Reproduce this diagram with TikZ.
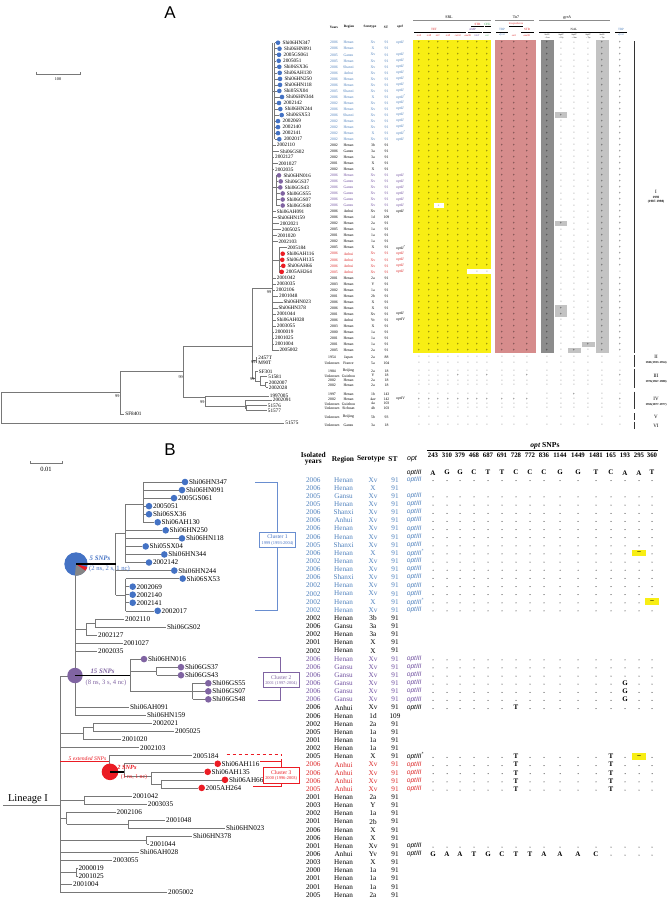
\documentclass[tikz,border=0pt]{standalone}
\usepackage{fontspec}
\setmainfont{Liberation Serif}
\newfontfamily\sansf{Liberation Sans}
\definecolor{bl}{RGB}{79,129,189}
\definecolor{blc}{RGB}{68,114,196}
\definecolor{pu}{RGB}{112,80,160}
\definecolor{puc}{RGB}{128,100,162}
\definecolor{re}{RGB}{220,40,40}
\definecolor{rec}{RGB}{235,28,36}
\definecolor{kk}{RGB}{0,0,0}
\definecolor{kkc}{RGB}{0,0,0}
\definecolor{yel}{RGB}{248,238,20}
\definecolor{pnk}{RGB}{214,140,140}
\definecolor{dg}{RGB}{140,140,140}
\definecolor{lg}{RGB}{195,195,195}
\definecolor{treeg}{RGB}{120,120,120}
\definecolor{grn}{RGB}{60,160,80}
\def\YA#1{(42.7+(#1-1)*6.03)}
\def\YB#1{(479.7+(#1-1)*8.14)}
\def\YL#1{(482+(#1-1)*8.05)}
\begin{document}
\begin{tikzpicture}[x=1pt,y=-1pt,
  br/.style={draw=treeg,line width=0.55pt},
  ta/.style={font=\fontsize{3.8}{4}\selectfont,inner sep=0pt},
  la/.style={font=\fontsize{5.2}{5.2}\selectfont,inner sep=0pt,anchor=west},
  pm/.style={font=\fontsize{4}{4}\selectfont,inner sep=0pt},
  bs/.style={font=\fontsize{4.2}{4.2}\selectfont,inner sep=0pt},
  hA/.style={font=\fontsize{3.2}{3.4}\selectfont,inner sep=0pt},
  tb/.style={font=\fontsize{7.2}{7.2}\selectfont,inner sep=0pt},
  lb/.style={font=\fontsize{7.2}{7.2}\selectfont,inner sep=0pt,anchor=west},
  ob/.style={font=\sansf\itshape\fontsize{6.6}{7}\selectfont,inner sep=0pt,anchor=west},
  snp/.style={font=\bfseries\fontsize{7}{7}\selectfont,inner sep=0.3pt,fill=white},
  hb/.style={font=\bfseries\fontsize{7.4}{7.6}\selectfont,inner sep=0pt}]
\useasboundingbox (0,0) rectangle (667,900);
\fill[white] (0,0) rectangle (667,900);

%================ PANEL A =================
\node[font=\sansf\fontsize{17}{17}\selectfont,inner sep=0pt] (labA) at (170,13) {A};
\draw[treeg,line width=0.5pt] (36,71.5) -- (36,74) -- (80,74) -- (80,71.5);
\node[bs] (scA) at (58,79.5) {100};

% coloured blocks
\fill[yel] (413,39.5) rectangle (491,353.3);
\fill[pnk] (495,39.5) rectangle (536,353.3);
\fill[dg] (540.5,39.5) rectangle (553.5,353.3);
\fill[lg] (595.5,39.5) rectangle (608.5,353.3);

% header A
\node[hA,font=\fontsize{4}{4}\selectfont] (hSRL) at (449,17.3) {SRL};
\node[hA,font=\fontsize{4}{4}\selectfont] (hTn) at (516,17.3) {Tn7};
\node[hA,font=\itshape\fontsize{4}{4}\selectfont] (hgy) at (567,17.3) {gyrA};
\draw[dg,line width=1.1pt] (413,20.6) -- (491,20.6);
\draw[dg,line width=1.1pt] (495,20.6) -- (534,20.6);
\draw[dg,line width=1.1pt] (539,20.6) -- (610,20.6);
\node[hA,text=re] (hSTR) at (477.5,24) {STR};
\node[hA,text=grn] (hCHL) at (487.5,24) {CHL};
\node[hA,text=re,font=\fontsize{2.6}{3}\selectfont] (hSt) at (516,24) {Streptothricin};
\draw[line width=0.8pt] (471,26.8) -- (484,26.8);
\draw[line width=0.8pt] (484.5,26.8) -- (491,26.8);
\draw[line width=0.8pt] (509,26.8) -- (523,26.8);
\node[hA,text=re] (hTET) at (434,29.4) {TET};
\node[hA,text=pu] (hAMP) at (472.5,29.4) {AMP};
\node[hA,text=bl] (hTBP1) at (502,29.4) {TBP};
\node[hA,text=re] (hSTR2) at (527,29.4) {STR};
\node[hA] (hNAL) at (574,29.4) {NAL};
\node[hA,text=bl] (hTBP2) at (621,29.4) {TBP};
\draw[line width=0.8pt] (414,32.2) -- (466,32.2);
\draw[line width=0.8pt] (468,32.2) -- (482,32.2);
\draw[line width=0.8pt] (483,32.2) -- (491,32.2);
\draw[line width=0.8pt] (496,32.2) -- (508,32.2);
\draw[line width=0.8pt] (521,32.2) -- (534,32.2);
\draw[line width=0.8pt] (539,32.2) -- (610,32.2);
\draw[line width=0.8pt] (615,32.2) -- (627,32.2);
\foreach \x/\g/\c [count=\k] in {419/tetA/re,429/tetB/re,438/tetC/re,448/tetR/re,458/catA1/re,468/aadA1/re,477/blaT/pu,487/cat/grn,502/dfrA1/bl,514/sat1/re,527/aadA1/re,621/dfrA1/bl}
  {\node[hA,text=\c,font=\itshape\fontsize{2.6}{3}\selectfont] (gn\k) at (\x,35.3) {\g};}
\foreach \x/\a/\b [count=\k] in {547/Ser83/Leu,561/Asp87/Gly,574/Asp87/Asn,588/Asp87/Tyr,602/Ser83/Tyr}
  {\node[hA,font=\fontsize{2.1}{2.2}\selectfont] (mu\k) at (\x,34.6) {\a};
   \node[hA,font=\fontsize{2.1}{2.2}\selectfont] (mv\k) at (\x,37.7) {→\b};}
\node[hA,font=\bfseries\fontsize{3.4}{3.4}\selectfont] (hY) at (334,27) {Years};
\node[hA,font=\bfseries\fontsize{3.4}{3.4}\selectfont] (hR) at (349,27) {Region};
\node[hA,font=\bfseries\fontsize{3.4}{3.4}\selectfont] (hS) at (370,27) {Serotype};
\node[hA,font=\bfseries\fontsize{3.4}{3.4}\selectfont] (hST) at (386,27) {ST};
\node[hA,font=\itshape\bfseries\fontsize{3.4}{3.4}\selectfont] (hO) at (400,27) {optI};

% + / - grid for lineage I
\foreach \i in {1,...,52}{
  \pgfmathsetmacro\yy{42.7+(\i-1)*6.03}
  \foreach \x in {419,429,438,448,458,468,477,487,502,514,527,547,602,620}{\node[pm] at (\x,\yy) {+};}
  \foreach \x in {561,574,588}{\node[pm] at (\x,\yy) {-};}
}
% special cells
\fill[lg] (555,{\YA{13}-2.7}) rectangle (567,{\YA{13}+2.7}); \node[pm] at (561,{\YA{13}}) {+};
\fill[lg] (555,{\YA{31}-2.7}) rectangle (567,{\YA{31}+2.7}); \node[pm] at (561,{\YA{31}}) {+};
\fill[lg] (555,{\YA{45}-2.7}) rectangle (567,{\YA{46}+2.7}); \node[pm] at (561,{\YA{45}}) {+}; \node[pm] at (561,{\YA{46}}) {+};
\fill[lg] (582,{\YA{51}-2.7}) rectangle (595,{\YA{51}+2.7}); \node[pm] at (588,{\YA{51}}) {+};
\fill[lg] (568,{\YA{52}-2.7}) rectangle (581,{\YA{52}+2.7}); \node[pm] at (574,{\YA{52}}) {+};
\fill[white] (434,{\YA{28}-2.6}) rectangle (443.5,{\YA{28}+2.6}); \node[pm] at (438.5,{\YA{28}}) {-};
\fill[white] (467,{\YA{39}-2.6}) rectangle (491,{\YA{39}+2.6}); \node[pm] at (477,{\YA{39}}) {-}; \node[pm] at (487,{\YA{39}}) {-};
\fill[white] (617,{\YA{39}-2.6}) rectangle (623,{\YA{39}+2.6}); \node[pm] at (620,{\YA{39}}) {-};

% lineage I tree and table (A)
\draw[br] (272,{\YA{1}}) -- (272,{\YA{52}});
\draw[br] (274.5,{\YA{1}}) -- (274.5,{\YA{17}});
\draw[br] (276.5,{\YA{23}}) -- (276.5,{\YA{28}});
\draw[br] (279,{\YA{35}}) -- (279,{\YA{39}});
\draw[br] (272,{\YA{9}}) -- (274.5,{\YA{9}});
\draw[br] (272,{\YA{25}}) -- (276.5,{\YA{25}});
\draw[br] (272,{\YA{37}}) -- (279,{\YA{37}});
\foreach \i/\nm/\yr/\rg/\sr/\st/\op/\cl/\cx/\lx in {
1/Shi06HN347/2006/Henan/Xv/91/optII/bl/278/282.5,
2/Shi06HN091/2006/Henan/X/91/{}/bl/279.5/284,
3/2005GS061/2005/Gansu/Xv/91/optII/bl/279/283.5,
4/2005051/2005/Henan/Xv/91/optII/bl/278.7/283,
5/Shi06SX36/2006/Shanxi/Xv/91/optII/bl/279.3/283.8,
6/Shi06AH130/2006/Anhui/Xv/91/optII/bl/279.7/284,
7/Shi06HN250/2006/Henan/Xv/91/optII/bl/280/284.3,
8/Shi06HN118/2006/Henan/Xv/91/optII/bl/280/284.3,
9/Shi05SX04/2005/Shanxi/Xv/91/optII/bl/279.3/283.8,
10/Shi06HN344/2006/Henan/X/91/optII\textsuperscript{*}/bl/282/286,
11/2002142/2002/Henan/Xv/91/optII/bl/279/283.5,
12/Shi06HN244/2006/Henan/Xv/91/optII/bl/280.3/284.7,
13/Shi06SX53/2006/Shanxi/Xv/91/optII/bl/281.7/286,
14/2002069/2002/Henan/Xv/91/optII/bl/278/282.5,
15/2002140/2002/Henan/Xv/91/optII/bl/278/282.5,
16/2002141/2002/Henan/X/91/optII\textsuperscript{*}/bl/278/282.5,
17/2002017/2002/Henan/Xv/91/optII/bl/279.3/283.8,
18/2002110/2002/Henan/3b/91/{}/kk/0/276.7,
19/Shi06GS02/2006/Gansu/3a/91/{}/kk/0/280,
20/2002127/2002/Henan/3a/91/{}/kk/0/275,
21/2001027/2001/Henan/X/91/{}/kk/0/278.3,
22/2002035/2002/Henan/X/91/{}/kk/0/275,
23/Shi06HN016/2006/Henan/Xv/91/optII/pu/279/283.3,
24/Shi06GS37/2006/Gansu/Xv/91/optII/pu/280.7/285,
25/Shi06GS43/2006/Gansu/Xv/91/optII/pu/280.3/284.7,
26/Shi06GS55/2006/Gansu/Xv/91/optII/pu/282.7/286.7,
27/Shi06GS07/2006/Gansu/Xv/91/optII/pu/282.7/286.7,
28/Shi06GS48/2006/Gansu/Xv/91/optII/pu/282.7/286.7,
29/Shi06AH091/2006/Anhui/Xv/91/optII/kk/0/276.7,
30/Shi06HN159/2006/Henan/1d/109/{}/kk/0/277.3,
31/2002021/2002/Henan/2a/91/{}/kk/0/280,
32/2005025/2005/Henan/1a/91/{}/kk/0/281.7,
33/2001020/2001/Henan/1a/91/{}/kk/0/277.3,
34/2002103/2002/Henan/1a/91/{}/kk/0/278.3,
35/2005184/2005/Henan/X/91/optII\textsuperscript{*}/kk/0/287.3,
36/Shi06AH116/2006/Anhui/Xv/91/optII/re/282.7/286.7,
37/Shi06AH135/2006/Anhui/Xv/91/optII/re/282.3/286.5,
38/Shi06AH66/2006/Anhui/Xv/91/optII/re/283.3/287.3,
39/2005AH264/2005/Anhui/Xv/91/optII/re/281.7/286,
40/2001042/2001/Henan/2a/91/{}/kk/0/276.7,
41/2003035/2003/Henan/Y/91/{}/kk/0/276.7,
42/2002106/2002/Henan/1a/91/{}/kk/0/276,
43/2001048/2001/Henan/2b/91/{}/kk/0/279,
44/Shi06HN023/2006/Henan/X/91/{}/kk/0/283.3,
45/Shi06HN378/2006/Henan/X/91/{}/kk/0/278.3,
46/2001044/2001/Henan/Xv/91/optII/kk/0/276.7,
47/Shi06AH028/2006/Anhui/Yv/91/optIV/kk/0/276.7,
48/2003055/2003/Henan/X/91/{}/kk/0/276.7,
49/2000019/2000/Henan/1a/91/{}/kk/0/275,
50/2001025/2001/Henan/1a/91/{}/kk/0/275,
51/2001004/2001/Henan/1a/91/{}/kk/0/275,
52/2005002/2005/Henan/2a/91/{}/kk/0/279.3}{
  \pgfmathsetmacro\yy{42.7+(\i-1)*6.03}
  \pgfmathsetmacro\sx{ifthenelse(\i<18,274.5,ifthenelse(and(\i>22,\i<29),276.5,ifthenelse(and(\i>34,\i<40),279,272)))}
  \ifdim\cx pt>1pt
    \draw[br] (\sx,\yy) -- ({\cx-2.3},\yy);
    \fill[\cl c] (\cx,\yy) circle (2.3);
  \else
    \draw[br] (\sx,\yy) -- ({\lx-0.6},\yy);
  \fi
  \node[la] (al\i) at (\lx,\yy) {\nm};
  \node[ta,text=\cl] (ay\i) at (334,\yy) {\yr};
  \node[ta,text=\cl] (ar\i) at (348.5,\yy) {\rg};
  \node[ta,text=\cl] (as\i) at (373,\yy) {\sr};
  \node[ta,text=\cl] (at\i) at (386.5,\yy) {\st};
  \node[ta,text=\cl,anchor=west,font=\itshape\fontsize{3.8}{4}\selectfont] (ao\i) at (396,\yy) {\op};
}

% outgroup part of tree A
\draw[br] (252,288.3) -- (272,288.3);
\node[bs,anchor=east] (bA1) at (271.3,292.6) {99};
\draw[br] (252,288.3) -- (252,378);
\draw[br] (252,360) -- (256,360);
\draw[br] (256,357.3) -- (256,362.7);
\node[bs,anchor=east] (bA2) at (255.6,362.6) {99};
\draw[br] (252,378) -- (255,378);
\draw[br] (255,371.5) -- (255,381);
\draw[br] (255,381) -- (260,381);
\draw[br] (260,376.5) -- (260,385);
\draw[br] (260,385) -- (265.7,385);
\draw[br] (265.7,382.3) -- (265.7,387.4);
\node[bs,anchor=east] (bA3) at (254.6,379.5) {99};
\draw[br] (183.3,346.7) -- (252,346.7);
\draw[br] (183.3,346.7) -- (183.3,397.7);
\node[bs,anchor=east] (bA4) at (183,377) {99};
\draw[br] (183.3,397.7) -- (205,397.7);
\draw[br] (205,396) -- (205,406.7);
\node[bs,anchor=east] (bA5) at (204.6,402) {99};
\draw[br] (205,406.7) -- (245,406.7);
\draw[br] (245,400) -- (245,408);
\draw[br] (245,408) -- (246,408);
\draw[br] (246,405.5) -- (246,410.6);
\draw[br] (120,371.7) -- (183.3,371.7);
\draw[br] (120,371.7) -- (120,414);
\node[bs,anchor=east] (bA6) at (119.6,396.4) {99};
\draw[br] (1,392.3) -- (120,392.3);
\draw[br] (1,392.3) -- (1,423.3);
\foreach \x/\y/\e/\nm [count=\k] in {256/357.3/257/2457T,256/362.7/257/M90T,255/371.5/257.5/SF301,260/376.5/267/51581,265.7/382.3/267.5/2002007,265.7/387.4/267.5/2002028,205/396/268.5/1997005,245/400/271.5/2002091,246/405.5/266.5/51576,246/410.6/266.5/51577,120/414/124/SF8401,1/423.3/284/51575}
 {\draw[br] (\x,\y) -- (\e,\y); \node[la] (ol\k) at ({\e+1.2},\y) {\nm};}

% outgroup table rows
\foreach \y/\yr/\rg/\sr/\st/\op [count=\k] in {357.3/1954/Japan/2a/88/{},363/Unknown/France/5a/104/{},371/1984/Beijing/2a/18/{},375.7/Unknown/Guizhou/Y/18/{},380.7/2002/Henan/2a/18/{},385.3/2002/Henan/2a/18/{},394.3/1997/Henan/1b/143/{},399/2002/Henan/4av/142/optIV,403.7/Unknown/Guizhou/4a/103/{},408.3/Unknown/Sichuan/4b/103/{},417/Unknown/Beijing/5b/93/{},425/Unknown/Gansu/3a/18/{}}{
  \node[ta] (oy\k) at (332,\y) {\yr};
  \node[ta] (or\k) at (348.5,\y) {\rg};
  \node[ta] (os\k) at (373,\y) {\sr};
  \node[ta] (ot\k) at (386.5,\y) {\st};
  \node[ta,anchor=west,font=\itshape\fontsize{3.8}{4}\selectfont] (oo\k) at (396,\y) {\op};
}
\foreach \y in {357.3,363,371,380.7,385.3,403.7,408.3,417,425}{
  \foreach \x in {419,429,438,448,458,468,477,487,502,514,527,547,561,574,588,602,620}{\node[pm] at (\x,\y) {-};}
}
\foreach \x in {419,429,438,448,468,477,502,514,547,561,574,588,602}{\node[pm] at (\x,375.7) {-};}
\foreach \x in {458,487,527,620}{\node[pm] at (\x,375.7) {+};}
\foreach \x in {419,429,438,448,458,468,477,487,502,514,527,547,561,588,602,620}{\node[pm] at (\x,394.3) {-};}
\node[pm] at (574,394.3) {+};
\foreach \x in {419,429,438,448,458,468,477,487,502,514,527,620}{\node[pm] at (\x,399) {+};}
\foreach \x in {547,561,574,588,602}{\node[pm] at (\x,399) {-};}

% lineage brackets (A)
\draw[line width=0.7pt,black!80] (634,41) -- (634,353.3);
\draw[line width=0.7pt,black!80] (634,355) -- (634,366.7);
\draw[line width=0.7pt,black!80] (634,368.5) -- (634,388);
\draw[line width=0.7pt,black!80] (634,391.5) -- (634,409);
\draw[line width=0.7pt,black!80] (634,413) -- (634,420);
\draw[line width=0.7pt,black!80] (634,421.8) -- (634,428.5);
\node[bs,font=\fontsize{5}{5}\selectfont] (lI) at (656,192) {I};
\node[hA,font=\bfseries\fontsize{3.3}{3.3}\selectfont] (lIa) at (656,197.3) {1993};
\node[hA,font=\bfseries\fontsize{3.3}{3.3}\selectfont] (lIb) at (656,201.5) {(1987-1998)};
\node[bs,font=\fontsize{5}{5}\selectfont] (lII) at (656,357) {II};
\node[hA,font=\bfseries\fontsize{3}{3}\selectfont] (lIIa) at (656,363) {1941(1933-1954)};
\node[bs,font=\fontsize{5}{5}\selectfont] (lIII) at (656,376) {III};
\node[hA,font=\bfseries\fontsize{3}{3}\selectfont] (lIIIa) at (656,381.8) {1976(1967-1980)};
\node[bs,font=\fontsize{5}{5}\selectfont] (lIV) at (656,399) {IV};
\node[hA,font=\bfseries\fontsize{3}{3}\selectfont] (lIVa) at (656,405) {1956(1877-1977)};
\node[bs,font=\fontsize{5}{5}\selectfont] (lV) at (656,417.3) {V};
\node[bs,font=\fontsize{5}{5}\selectfont] (lVI) at (656,425.8) {VI};

%================ PANEL B =================
\node[font=\sansf\fontsize{17}{17}\selectfont,inner sep=0pt] (labB) at (170,450) {B};
\draw[treeg,line width=0.6pt] (30,461) -- (30,463.5) -- (62,463.5) -- (62,461);
\node[bs,font=\fontsize{6.5}{6.5}\selectfont] (scB) at (46,469.5) {0.01};

% header B
\node[hb] (hIs) at (313.3,455) {Isolated};
\node[hb] (hIy) at (313.3,463) {years};
\node[hb] (hRg) at (343,459.3) {Region};
\node[hb] (hSe) at (371,459.3) {Serotype};
\node[hb] (hSt) at (393,459.3) {ST};
\node[ob,font=\sansf\itshape\fontsize{7}{7}\selectfont,anchor=center] (hOp) at (412,459.3) {opt};
\node[hb,font=\bfseries\fontsize{7.6}{7.6}\selectfont] (hSN) at (545,446) {\textit{opt} SNPs};
\draw[line width=0.9pt] (427,450.6) -- (658,450.6);
\foreach \x/\n [count=\k] in {433/243,447/310,460/379,474/468,488/687,502/691,516/728,530/772,544/836,560/1144,578/1449,596/1481,611/165,625/193,639/295,652/360}
  {\node[hb,font=\bfseries\fontsize{6.8}{6.8}\selectfont] (pn\k) at (\x,455.3) {\n};}
\node[ob] (refo) at (406.7,472.7) {optIII};
\foreach \x/\n [count=\k] in {433/A,447/G,460/G,474/C,488/T,502/T,516/C,530/C,544/C,560/G,578/G,596/T,611/C,625/A,639/A,652/T}
  {\node[snp] (rf\k) at (\x,472.7) {\n};}

% table B
\foreach \i/\yr/\rg/\sr/\st/\op/\cl in {
1/2006/Henan/Xv/91/optIII/bl, 2/2006/Henan/X/91/{}/bl, 3/2005/Gansu/Xv/91/optIII/bl,
4/2005/Henan/Xv/91/optIII/bl, 5/2006/Shanxi/Xv/91/optIII/bl, 6/2006/Anhui/Xv/91/optIII/bl,
7/2006/Henan/Xv/91/optIII/bl, 8/2006/Henan/Xv/91/optIII/bl, 9/2005/Shanxi/Xv/91/optIII/bl,
10/2006/Henan/X/91/optIII\textsuperscript{*}/bl, 11/2002/Henan/Xv/91/optIII/bl, 12/2006/Henan/Xv/91/optIII/bl,
13/2006/Shanxi/Xv/91/optIII/bl, 14/2002/Henan/Xv/91/optIII/bl, 15/2002/Henan/Xv/91/optIII/bl,
16/2002/Henan/X/91/optIII\textsuperscript{*}/bl, 17/2002/Henan/Xv/91/optIII/bl,
18/2002/Henan/3b/91/{}/kk, 19/2006/Gansu/3a/91/{}/kk, 20/2002/Henan/3a/91/{}/kk,
21/2001/Henan/X/91/{}/kk, 22/2002/Henan/X/91/{}/kk,
23/2006/Henan/Xv/91/optIII/pu, 24/2006/Gansu/Xv/91/optIII/pu, 25/2006/Gansu/Xv/91/optIII/pu,
26/2006/Gansu/Xv/91/optIII/pu, 27/2006/Gansu/Xv/91/optIII/pu, 28/2006/Gansu/Xv/91/optIII/pu,
29/2006/Anhui/Xv/91/optIII/kk, 30/2006/Henan/1d/109/{}/kk, 31/2002/Henan/2a/91/{}/kk,
32/2005/Henan/1a/91/{}/kk, 33/2001/Henan/1a/91/{}/kk, 34/2002/Henan/1a/91/{}/kk,
35/2005/Henan/X/91/optIII\textsuperscript{*}/kk,
36/2006/Anhui/Xv/91/optIII/re, 37/2006/Anhui/Xv/91/optIII/re, 38/2006/Anhui/Xv/91/optIII/re,
39/2005/Anhui/Xv/91/optIII/re,
40/2001/Henan/2a/91/{}/kk, 41/2003/Henan/Y/91/{}/kk, 42/2002/Henan/1a/91/{}/kk,
43/2001/Henan/2b/91/{}/kk, 44/2006/Henan/X/91/{}/kk, 45/2006/Henan/X/91/{}/kk,
46/2001/Henan/Xv/91/optIII/kk, 47/2006/Anhui/Yv/91/optIII/kk, 48/2003/Henan/X/91/{}/kk,
49/2000/Henan/1a/91/{}/kk, 50/2001/Henan/1a/91/{}/kk, 51/2001/Henan/1a/91/{}/kk,
52/2005/Henan/2a/91/{}/kk}{
  \pgfmathsetmacro\yy{479.7+(\i-1)*8.14}
  \node[tb,text=\cl] (by\i) at (313.3,\yy) {\yr};
  \node[tb,text=\cl] (bg\i) at (343.5,\yy) {\rg};
  \node[tb,text=\cl] (bs\i) at (373,\yy) {\sr};
  \node[tb,text=\cl] (bt\i) at (395,\yy) {\st};
  \node[ob,text=\cl] (bo\i) at (406.7,\yy) {\op};
}
\foreach \i in {1,3,4,5,6,7,8,9,10,11,12,13,14,15,16,17,23,24,25,26,27,28,29,35,36,37,38,39,46}{
  \pgfmathsetmacro\yy{479.7+(\i-1)*8.14}
  \foreach \x in {433,447,460,474,488,502,516,530,544,560,578,596,611,625,639,652}{\fill (\x,{\yy+1}) circle (0.5);}
}
\foreach \i/\x in {10/639,16/652,35/639}{
  \fill[yel] ({\x-7},{\YB{\i}-3.4}) rectangle ({\x+7},{\YB{\i}+3.4});
  \node[snp,fill=none] at (\x,{\YB{\i}}) {--};
}
\foreach \i in {26,27,28}{\node[snp] at (625,{\YB{\i}}) {G};}
\node[snp] at (516,{\YB{29}}) {T};
\foreach \i in {35,36,37,38,39}{\node[snp] at (516,{\YB{\i}}) {T}; \node[snp] at (611,{\YB{\i}}) {T};}
\foreach \x/\n in {433/G,447/A,460/A,474/T,488/G,502/C,516/T,530/T,544/A,560/A,578/A,596/C}
  {\node[snp] at (\x,{\YB{47}}) {\n};}
\foreach \x in {611,625,639,652}{\fill (\x,{\YB{47}+1}) circle (0.5);}

% tree B internal branches
\draw[br] (143,{\YL{1}}) -- (143,{\YL{6}});
\draw[br] (125,504) -- (143,504);
\draw[br] (125,504) -- (125,{\YL{11}});
\draw[br] (115.7,533) -- (125,533);
\draw[br] (115.7,533) -- (115.7,595);
\draw[br] (115.7,595) -- (125.5,595);
\draw[br] (125.5,{\YL{13}}) -- (125.5,{\YL{17}});
\draw[br] (75,564) -- (75,{\YL{30}});
\draw[br] (60,676) -- (75,676);
\draw[br] (60,676) -- (60,{\YL{52}});
\draw[br] (3,805) -- (60,805);
\draw[br] (75,629) -- (86,629);
\draw[br] (86,623) -- (86,{\YL{20}});
\draw[br] (86,623) -- (95,623);
\draw[br] (95,{\YL{18}}) -- (95,{\YL{19}});
\draw[br] (130,{\YL{23}}) -- (130,{\YL{27}});
\draw[br] (130,671) -- (156.7,671);
\draw[br] (156.7,{\YL{24}}) -- (156.7,{\YL{25}});
\draw[br] (130,{\YL{27}}) -- (192.7,{\YL{27}});
\draw[br] (192.7,{\YL{26}}) -- (192.7,{\YL{28}});
\draw[br] (60,733.5) -- (83.3,733.5);
\draw[br] (83.3,727.5) -- (83.3,{\YL{33}});
\draw[br] (83.3,727.5) -- (93.3,727.5);
\draw[br] (93.3,{\YL{31}}) -- (93.3,{\YL{32}});
\draw[rec,line width=0.6pt] (60,761.5) -- (109,761.5);
\draw[br] (109,{\YL{35}}) -- (109,771.8);
\draw[br] (124,{\YL{36}}) -- (124,776);
\draw[br] (124,776) -- (151,776);
\draw[br] (151,{\YL{37}}) -- (151,784);
\draw[br] (151,784) -- (161,784);
\draw[br] (161,{\YL{38}}) -- (161,{\YL{39}});
\draw[br] (60,800) -- (84.3,800);
\draw[br] (84.3,{\YL{40}}) -- (84.3,{\YL{41}});
\draw[br] (60,818) -- (66.7,818);
\draw[br] (66.7,{\YL{42}}) -- (66.7,824.1);
\draw[br] (66.7,824.1) -- (128.3,824.1);
\draw[br] (128.3,{\YL{43}}) -- (128.3,{\YL{44}});
\draw[br] (60,840.2) -- (146.7,840.2);
\draw[br] (146.7,{\YL{45}}) -- (146.7,{\YL{46}});
\draw[br] (60,872.4) -- (76,872.4);
\draw[br] (76,{\YL{49}}) -- (76,{\YL{50}});

% leaves B
\foreach \i/\nm/\cl/\cx/\px/\lx in {
1/Shi06HN347/bl/185/143/0, 2/Shi06HN091/bl/182/143/0, 3/2005GS061/bl/174/143/0,
4/2005051/bl/149/143/0, 5/Shi06SX36/bl/149/143/0, 6/Shi06AH130/bl/157.7/143/0,
7/Shi06HN250/bl/165.7/125/0, 8/Shi06HN118/bl/182/125/0, 9/Shi05SX04/bl/145.7/125/0,
10/Shi06HN344/bl/164.3/125/0, 11/2002142/bl/149/125/0, 12/Shi06HN244/bl/174.3/115.7/0,
13/Shi06SX53/bl/182.7/125.5/0, 14/2002069/bl/132.7/125.5/0, 15/2002140/bl/132.7/125.5/0,
16/2002141/bl/132.7/125.5/0, 17/2002017/bl/157.7/125.5/0,
18/2002110/kk/0/95/125, 19/Shi06GS02/kk/0/95/167, 20/2002127/kk/0/86/98,
21/2001027/kk/0/75/123.5, 22/2002035/kk/0/75/98,
23/Shi06HN016/pu/144/130/0, 24/Shi06GS37/pu/181/156.7/0, 25/Shi06GS43/pu/181/156.7/0,
26/Shi06GS55/pu/208.3/192.7/0, 27/Shi06GS07/pu/208.3/192.7/0, 28/Shi06GS48/pu/208.3/192.7/0,
29/Shi06AH091/kk/0/75/130, 30/Shi06HN159/kk/0/75/147, 31/2002021/kk/0/93.3/152.7,
32/2005025/kk/0/93.3/175, 33/2001020/kk/0/83.3/122, 34/2002103/kk/0/60/140,
35/2005184/kk/0/109/193, 36/Shi06AH116/re/217.7/124/0, 37/Shi06AH135/re/207.7/151/0,
38/Shi06AH66/re/225/161/0, 39/2005AH264/re/201.7/161/0,
40/2001042/kk/0/84.3/132.7, 41/2003035/kk/0/84.3/147.7, 42/2002106/kk/0/66.7/116.5,
43/2001048/kk/0/128.3/166, 44/Shi06HN023/kk/0/128.3/226, 45/Shi06HN378/kk/0/146.7/193,
46/2001044/kk/0/146.7/150, 47/Shi06AH028/kk/0/60/140, 48/2003055/kk/0/60/113,
49/2000019/kk/0/76/78.3, 50/2001025/kk/0/76/78.3, 51/2001004/kk/0/60/73,
52/2005002/kk/0/60/168}{
  \pgfmathsetmacro\yy{482+(\i-1)*8.05}
  \ifdim\cx pt>1pt
    \draw[br] (\px,\yy) -- ({\cx-3.3},\yy);
    \fill[\cl c] (\cx,\yy) circle (3.3);
    \node[lb] (bn\i) at ({\cx+3.8},\yy) {\nm};
  \else
    \draw[br] (\px,\yy) -- ({\lx-0.8},\yy);
    \node[lb] (bn\i) at (\lx,\yy) {\nm};
  \fi
}

% pies and SNP bars
\fill[blc] (76,564) circle (11.7);
\fill[treeg!90] (76,564) -- ++(35:11.7) arc (35:95:11.7) -- cycle;
\fill[rec] (76,564) -- ++(15:11.7) arc (15:35:11.7) -- cycle;
\draw[line width=1.4pt] (76,564) -- (115.7,564);
\fill[puc] (75,675.5) circle (7.7);
\draw[line width=1.4pt] (75,675.5) -- (130,675.5);
\fill[rec] (110,771.8) circle (8.3);
\draw[line width=1.4pt] (110,771.8) -- (124,771.8);
\node[inner sep=0pt,text=blc,font=\bfseries\itshape\fontsize{6.8}{6.8}\selectfont] (t5) at (100,558) {5 SNPs};
\node[inner sep=0pt,text=blc,font=\fontsize{6.6}{6.6}\selectfont] (t5b) at (109.5,569.3) {(2 ns, 2 s, 1 nc)};
\node[inner sep=0pt,text=puc,font=\bfseries\itshape\fontsize{6.8}{6.8}\selectfont] (t15) at (102.5,671) {15 SNPs};
\node[inner sep=0pt,text=puc,font=\fontsize{6.6}{6.6}\selectfont] (t15b) at (106,682.7) {(8 ns, 3 s, 4 nc)};
\node[inner sep=0pt,text=rec,font=\bfseries\itshape\fontsize{6.3}{6.3}\selectfont] (t2) at (127,767.3) {2 SNPs};
\node[inner sep=0pt,text=rec,font=\fontsize{5.8}{5.8}\selectfont] (t2b) at (134,777.3) {(1 ns, 1 nc)};
\node[inner sep=0pt,text=rec,font=\itshape\fontsize{5.6}{5.6}\selectfont] (t5e) at (87.5,758.3) {5 extended SNPs};
\node[inner sep=0pt,font=\fontsize{10.5}{10.5}\selectfont,anchor=south] (linI) at (28,803.5) {Lineage I};

% cluster brackets B
\draw[blc!80,line width=0.8pt] (255,{\YL{1}}) -- (277.3,{\YL{1}}) -- (277.3,610.7) -- (255,610.7);
\draw[blc!80,line width=0.7pt,fill=white] (259.3,532.3) rectangle (295.7,547.3);
\node[inner sep=0pt,text=blc,font=\fontsize{5.6}{5.6}\selectfont] (c1a) at (277.5,537) {Cluster 1};
\node[inner sep=0pt,text=blc,font=\fontsize{4.4}{4.4}\selectfont] (c1b) at (277.5,543.8) {1999 (1993-2004)};
\draw[puc,line width=0.8pt] (258,657.3) -- (280,657.3) -- (280,700.7) -- (258,700.7);
\draw[puc,line width=0.7pt,fill=white] (263.3,672.7) rectangle (299,687.3);
\node[inner sep=0pt,text=puc,font=\fontsize{5.6}{5.6}\selectfont] (c2a) at (281.2,677.3) {Cluster 2};
\node[inner sep=0pt,text=puc,font=\fontsize{4.4}{4.4}\selectfont] (c2b) at (281.2,683.8) {2001 (1997-2004)};
\draw[rec,line width=0.7pt,dashed] (226.7,754.3) -- (281.7,754.3) -- (281.7,761.7);
\draw[rec,line width=0.7pt] (260,761.7) -- (281.7,761.7) -- (281.7,786.7) -- (253,786.7);
\draw[rec,line width=0.7pt,fill=white] (263.3,767.7) rectangle (299,783.3);
\node[inner sep=0pt,text=rec,font=\fontsize{5.6}{5.6}\selectfont] (c3a) at (281.2,772.3) {Cluster 3};
\node[inner sep=0pt,text=rec,font=\fontsize{4.4}{4.4}\selectfont] (c3b) at (281.2,778.8) {2000 (1996-2003)};
\end{tikzpicture}
\end{document}
